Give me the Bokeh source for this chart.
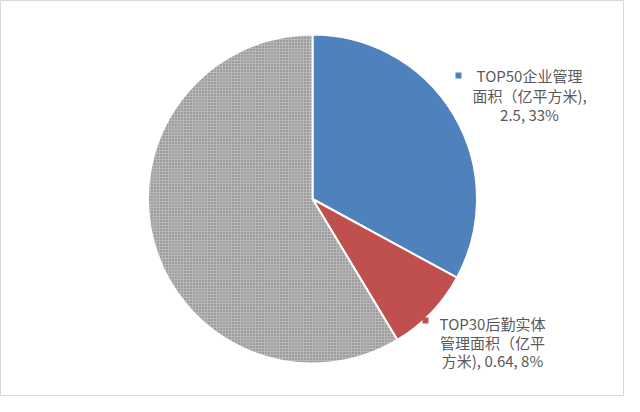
import numpy as np
from bokeh.plotting import figure
from bokeh.models import Range1d, ColumnDataSource
from bokeh.core.properties import value
from bokeh.embed import file_html
from bokeh.resources import INLINE

categories = ["TOP50企业管理面积（亿平方米)", "TOP30后勤实体管理面积（亿平方米)", "其他"]
values = [2.5, 0.64, 4.45]
colors = ["#4f81bd", "#c0504d", "#bfbfbf"]
label_lines_1 = ["TOP50企业管理", "面积（亿平方米),", "2.5, 33%"]
label_lines_2 = ["TOP30后勤实体", "管理面积（亿平", "方米), 0.64, 8%"]

W, H = 624, 396
p = figure(width=W, height=H, output_backend="svg", toolbar_location=None,
           x_range=Range1d(8, 632), y_range=Range1d(8, 404),
           min_border=0, match_aspect=False)
p.axis.visible = False
p.grid.visible = False
p.outline_line_color = "#d9d9d9"
p.background_fill_color = "white"

def Y(ry):
    return 412 - ry

cx, cy, r = 320, Y(206.5), 164.5
vals = np.array(values)
frac = vals / vals.sum()
ends = np.pi / 2 - 2 * np.pi * np.cumsum(frac)
starts = np.concatenate([[np.pi / 2], ends[:-1]])

src = ColumnDataSource(dict(start=starts[:2], end=ends[:2], color=colors[:2]))
p.wedge(x=cx, y=cy, radius=r, start_angle="start", end_angle="end", direction="clock",
        fill_color="color", line_color="white", line_width=2, source=src)
p.wedge(x=cx, y=cy, radius=r, start_angle=starts[2], end_angle=ends[2], direction="clock",
        fill_color="#b8b8b8", hatch_pattern="dot", hatch_color="#606060", hatch_scale=3,
        hatch_alpha=0.8, line_color="white", line_width=2)

# labels
def label(lines, x, y0, dy, mx, my, mcolor):
    ys = [Y(y0 + i * dy) for i in range(len(lines))]
    p.text(x=[x] * len(lines), y=ys, text=lines, text_align="center", text_baseline="middle",
           text_font=value("Noto Sans CJK SC"), text_font_size="15px", text_color="#595959")
    p.scatter(x=[mx], y=[Y(my)], marker="square", size=6, fill_color=mcolor, line_color=None)

label(label_lines_1, 537, 83, 19.5, 466, 83, colors[0])
label(label_lines_2, 500, 331, 18.5, 433, 328, colors[1])

open("out.html", "w").write(file_html(p, INLINE))
